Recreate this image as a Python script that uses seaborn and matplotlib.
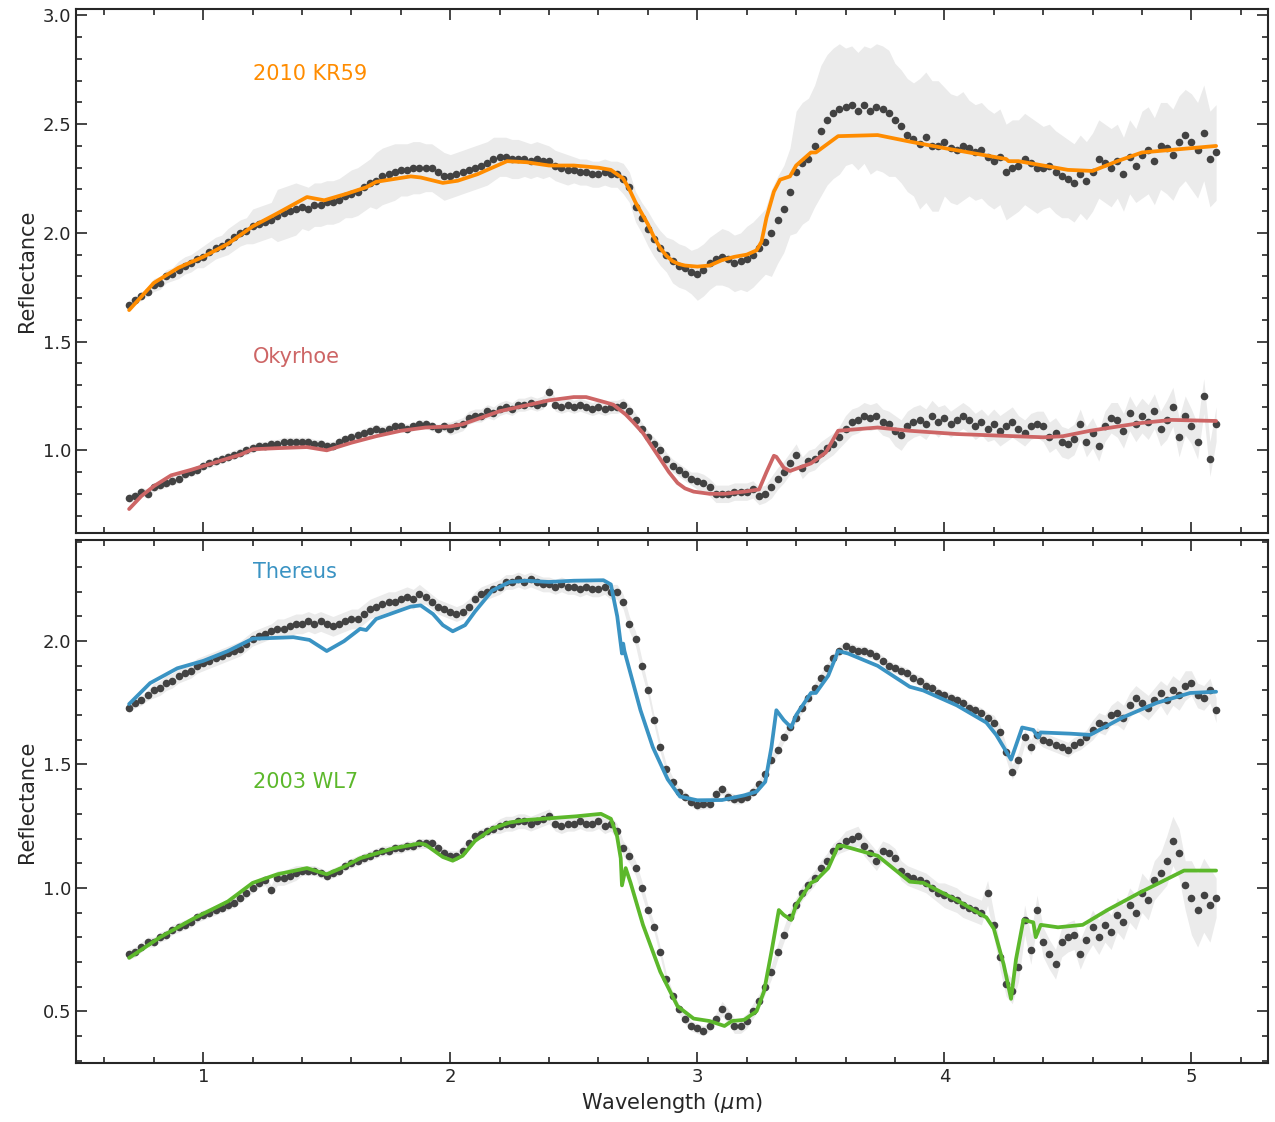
import numpy as np
import matplotlib
matplotlib.use("Agg")
import matplotlib.pyplot as plt
import seaborn as sns
from matplotlib.ticker import MultipleLocator

# wavelength grid of the measured spectra (micron)
wl = np.round(np.arange(0.70, 5.1001, 0.025), 3)

# measured reflectance, one value per grid point
kr59 = [1.67, 1.69, 1.71, 1.73, 1.76, 1.77, 1.80, 1.81, 1.83, 1.85, 1.86, 1.88,
        1.89, 1.91, 1.93, 1.94, 1.96, 1.98, 2.00, 2.01, 2.03, 2.04, 2.05, 2.06,
        2.08, 2.09, 2.10, 2.11, 2.12, 2.11, 2.13, 2.13, 2.14, 2.14, 2.15, 2.17,
        2.18, 2.19, 2.21, 2.23, 2.24, 2.26, 2.27, 2.28, 2.29, 2.29, 2.30, 2.30,
        2.30, 2.30, 2.28, 2.26, 2.26, 2.27, 2.28, 2.29, 2.30, 2.31, 2.32, 2.34,
        2.35, 2.35, 2.34, 2.34, 2.34, 2.33, 2.34, 2.33, 2.33, 2.31, 2.30, 2.29,
        2.29, 2.28, 2.28, 2.27, 2.27, 2.28, 2.27, 2.27, 2.25, 2.21, 2.12, 2.07,
        2.02, 1.97, 1.93, 1.90, 1.87, 1.85, 1.84, 1.82, 1.81, 1.83, 1.86, 1.88,
        1.89, 1.88, 1.86, 1.87, 1.88, 1.90, 1.93, 1.96, 2.00, 2.06, 2.11, 2.19,
        2.28, 2.32, 2.34, 2.40, 2.47, 2.52, 2.55, 2.57, 2.58, 2.59, 2.56, 2.59,
        2.56, 2.58, 2.57, 2.55, 2.52, 2.49, 2.45, 2.43, 2.41, 2.44, 2.40, 2.40,
        2.42, 2.39, 2.38, 2.40, 2.39, 2.37, 2.38, 2.35, 2.33, 2.35, 2.28, 2.30,
        2.31, 2.34, 2.32, 2.30, 2.30, 2.31, 2.28, 2.26, 2.25, 2.23, 2.27, 2.24,
        2.28, 2.34, 2.32, 2.30, 2.33, 2.27, 2.35, 2.31, 2.36, 2.38, 2.33, 2.40,
        2.39, 2.36, 2.42, 2.45, 2.42, 2.38, 2.46, 2.34, 2.37]

okyrhoe = [0.78, 0.79, 0.81, 0.80, 0.83, 0.84, 0.85, 0.86, 0.87, 0.89, 0.90, 0.91,
           0.93, 0.94, 0.95, 0.96, 0.97, 0.98, 0.99, 1.00, 1.01, 1.02, 1.02, 1.03,
           1.03, 1.04, 1.04, 1.04, 1.04, 1.04, 1.03, 1.03, 1.02, 1.02, 1.04, 1.05,
           1.06, 1.07, 1.08, 1.09, 1.10, 1.09, 1.10, 1.11, 1.11, 1.10, 1.11, 1.12,
           1.12, 1.11, 1.10, 1.11, 1.10, 1.11, 1.12, 1.15, 1.16, 1.16, 1.18, 1.17,
           1.19, 1.20, 1.19, 1.21, 1.21, 1.22, 1.21, 1.22, 1.27, 1.21, 1.20, 1.21,
           1.20, 1.21, 1.20, 1.19, 1.20, 1.19, 1.20, 1.20, 1.21, 1.18, 1.14, 1.10,
           1.06, 1.03, 1.00, 0.96, 0.93, 0.91, 0.89, 0.87, 0.86, 0.85, 0.83, 0.80,
           0.80, 0.80, 0.81, 0.81, 0.81, 0.82, 0.79, 0.80, 0.83, 0.87, 0.90, 0.94,
           0.98, 0.92, 0.95, 0.96, 0.99, 1.01, 1.03, 1.06, 1.10, 1.13, 1.14, 1.16,
           1.15, 1.16, 1.13, 1.12, 1.09, 1.07, 1.11, 1.13, 1.14, 1.12, 1.16, 1.13,
           1.15, 1.12, 1.14, 1.16, 1.14, 1.11, 1.13, 1.10, 1.12, 1.09, 1.11, 1.13,
           1.10, 1.08, 1.11, 1.12, 1.11, 1.06, 1.08, 1.04, 1.03, 1.05, 1.12, 1.04,
           1.08, 1.02, 1.11, 1.15, 1.14, 1.09, 1.17, 1.12, 1.16, 1.13, 1.18, 1.10,
           1.14, 1.20, 1.06, 1.16, 1.11, 1.04, 1.25, 0.96, 1.12]

thereus = [1.73, 1.75, 1.76, 1.78, 1.80, 1.81, 1.83, 1.84, 1.86, 1.87, 1.88, 1.90,
           1.91, 1.92, 1.93, 1.94, 1.95, 1.96, 1.97, 1.99, 2.01, 2.02, 2.03, 2.04,
           2.05, 2.05, 2.06, 2.07, 2.07, 2.08, 2.07, 2.08, 2.07, 2.06, 2.07, 2.08,
           2.09, 2.09, 2.11, 2.13, 2.14, 2.15, 2.16, 2.16, 2.17, 2.18, 2.17, 2.19,
           2.18, 2.16, 2.14, 2.13, 2.12, 2.11, 2.12, 2.14, 2.17, 2.19, 2.20, 2.21,
           2.22, 2.24, 2.24, 2.25, 2.24, 2.25, 2.24, 2.23, 2.23, 2.22, 2.23, 2.22,
           2.22, 2.21, 2.22, 2.21, 2.21, 2.22, 2.20, 2.20, 2.16, 2.07, 2.01, 1.90,
           1.80, 1.68, 1.57, 1.48, 1.43, 1.39, 1.37, 1.35, 1.335, 1.34, 1.34, 1.38,
           1.40, 1.37, 1.36, 1.36, 1.37, 1.39, 1.42, 1.46, 1.52, 1.56, 1.61, 1.65,
           1.69, 1.73, 1.77, 1.81, 1.85, 1.89, 1.93, 1.96, 1.98, 1.97, 1.96, 1.96,
           1.95, 1.94, 1.92, 1.90, 1.89, 1.88, 1.87, 1.85, 1.84, 1.82, 1.81, 1.79,
           1.78, 1.77, 1.76, 1.75, 1.73, 1.72, 1.71, 1.69, 1.67, 1.63, 1.55, 1.47,
           1.52, 1.61, 1.57, 1.62, 1.60, 1.59, 1.58, 1.57, 1.56, 1.58, 1.59, 1.61,
           1.64, 1.67, 1.66, 1.70, 1.71, 1.69, 1.74, 1.77, 1.75, 1.73, 1.76, 1.79,
           1.76, 1.80, 1.78, 1.82, 1.83, 1.78, 1.77, 1.80, 1.72]

wl7 = [0.73, 0.74, 0.76, 0.78, 0.78, 0.80, 0.81, 0.83, 0.84, 0.85, 0.86, 0.88,
       0.89, 0.90, 0.91, 0.92, 0.93, 0.94, 0.96, 0.98, 1.00, 1.02, 1.03, 0.99,
       1.04, 1.04, 1.05, 1.06, 1.07, 1.07, 1.07, 1.06, 1.05, 1.06, 1.07, 1.09,
       1.10, 1.11, 1.12, 1.13, 1.14, 1.15, 1.15, 1.16, 1.16, 1.17, 1.17, 1.18,
       1.18, 1.18, 1.16, 1.14, 1.13, 1.13, 1.15, 1.18, 1.21, 1.22, 1.23, 1.24,
       1.25, 1.26, 1.26, 1.27, 1.27, 1.26, 1.27, 1.28, 1.29, 1.26, 1.25, 1.26,
       1.26, 1.27, 1.26, 1.26, 1.27, 1.25, 1.26, 1.23, 1.16, 1.13, 1.08, 1.00,
       0.91, 0.84, 0.74, 0.63, 0.56, 0.51, 0.47, 0.44, 0.43, 0.42, 0.44, 0.47,
       0.51, 0.48, 0.44, 0.44, 0.46, 0.50, 0.54, 0.60, 0.66, 0.74, 0.81, 0.88,
       0.93, 0.98, 1.01, 1.04, 1.08, 1.11, 1.15, 1.17, 1.19, 1.20, 1.21, 1.17,
       1.14, 1.11, 1.15, 1.14, 1.12, 1.07, 1.05, 1.04, 1.03, 1.02, 1.00, 0.98,
       0.97, 0.96, 0.95, 0.93, 0.92, 0.91, 0.90, 0.98, 0.85, 0.72, 0.61, 0.58,
       0.68, 0.87, 0.75, 0.91, 0.78, 0.73, 0.69, 0.78, 0.80, 0.81, 0.73, 0.79,
       0.84, 0.80, 0.85, 0.82, 0.89, 0.86, 0.93, 0.90, 0.98, 0.95, 1.03, 1.06,
       1.11, 1.19, 1.14, 1.01, 0.96, 0.91, 0.97, 0.93, 0.96]

# 1-sigma uncertainties, one value per 0.1 micron (0.7 ... 5.1)
kr59_err = [0.02, 0.03, 0.04, 0.05, 0.06, 0.08, 0.12, 0.10, 0.10, 0.11,
            0.13, 0.12, 0.11, 0.10, 0.10, 0.09, 0.08, 0.07, 0.06, 0.06,
            0.07, 0.08, 0.10, 0.12, 0.13, 0.15, 0.20, 0.28, 0.30, 0.27,
            0.29, 0.26, 0.30, 0.25, 0.22, 0.22, 0.21, 0.19, 0.18, 0.18,
            0.17, 0.20, 0.21, 0.22, 0.22]
okyrhoe_err = [0.02, 0.02, 0.02, 0.02, 0.02, 0.02, 0.02, 0.02, 0.02, 0.02,
               0.02, 0.02, 0.02, 0.03, 0.03, 0.03, 0.03, 0.03, 0.03, 0.03,
               0.03, 0.03, 0.03, 0.04, 0.04, 0.04, 0.05, 0.05, 0.05, 0.06,
               0.06, 0.07, 0.07, 0.06, 0.06, 0.07, 0.06, 0.07, 0.07, 0.07,
               0.08, 0.08, 0.09, 0.08, 0.08]
thereus_err = [0.02, 0.03, 0.03, 0.03, 0.03, 0.03, 0.04, 0.04, 0.04, 0.04,
               0.04, 0.04, 0.03, 0.03, 0.03, 0.03, 0.03, 0.03, 0.03, 0.03,
               0.03, 0.02, 0.02, 0.02, 0.02, 0.02, 0.02, 0.02, 0.02, 0.02,
               0.02, 0.02, 0.02, 0.02, 0.02, 0.03, 0.03, 0.03, 0.03, 0.04,
               0.05, 0.05, 0.06, 0.05, 0.05]
wl7_err = [0.02, 0.02, 0.02, 0.02, 0.02, 0.02, 0.03, 0.02, 0.02, 0.02,
           0.02, 0.02, 0.02, 0.02, 0.02, 0.03, 0.03, 0.03, 0.03, 0.03,
           0.03, 0.02, 0.02, 0.02, 0.03, 0.03, 0.03, 0.03, 0.03, 0.04,
           0.04, 0.04, 0.04, 0.05, 0.05, 0.05, 0.06, 0.06, 0.06, 0.07,
           0.07, 0.08, 0.10, 0.15, 0.08]

# best-fit models
kr59_mod_wl = [0.70, 0.80, 0.90, 1.00, 1.10, 1.20, 1.30, 1.42, 1.49, 1.58, 1.66, 1.70,
               1.84, 1.88, 1.97, 2.03, 2.11, 2.23, 2.31, 2.40, 2.50, 2.60, 2.65, 2.70,
               2.725, 2.75, 2.775, 2.80, 2.825, 2.85, 2.875, 2.90, 2.925, 2.95, 3.00,
               3.05, 3.10, 3.15, 3.20, 3.24, 3.26, 3.28, 3.31, 3.335, 3.375, 3.40, 3.46,
               3.48, 3.57, 3.73, 3.86, 4.00, 4.10, 4.20, 4.25, 4.26, 4.30, 4.40, 4.50,
               4.60, 4.70, 4.80, 4.90, 5.00, 5.10]
kr59_mod = [1.645, 1.77, 1.84, 1.89, 1.95, 2.03, 2.09, 2.165, 2.15, 2.18, 2.21, 2.235,
            2.26, 2.255, 2.23, 2.24, 2.27, 2.33, 2.325, 2.31, 2.31, 2.30, 2.29, 2.25,
            2.20, 2.14, 2.09, 2.04, 1.98, 1.93, 1.895, 1.87, 1.857, 1.85, 1.845,
            1.85, 1.875, 1.89, 1.90, 1.92, 1.96, 2.07, 2.19, 2.245, 2.26, 2.31, 2.37,
            2.37, 2.445, 2.45, 2.42, 2.39, 2.37, 2.35, 2.34, 2.33, 2.33, 2.31, 2.29,
            2.285, 2.33, 2.37, 2.38, 2.39, 2.40]

okyrhoe_mod_wl = [0.70, 0.75, 0.80, 0.87, 0.95, 1.05, 1.15, 1.20, 1.30, 1.42, 1.50, 1.60,
                  1.70, 1.80, 1.90, 2.00, 2.05, 2.10, 2.20, 2.30, 2.40, 2.50, 2.55, 2.63,
                  2.66, 2.71, 2.74, 2.78, 2.815, 2.85, 2.885, 2.92, 2.95, 2.985, 3.05,
                  3.11, 3.19, 3.25, 3.28, 3.31, 3.32, 3.35, 3.375, 3.46, 3.52, 3.54, 3.57,
                  3.73, 3.86, 4.05, 4.40, 4.48, 4.59, 4.79, 4.92, 5.10]
okyrhoe_mod = [0.73, 0.79, 0.835, 0.885, 0.91, 0.945, 0.98, 1.005, 1.01, 1.015, 1.00, 1.035,
               1.065, 1.09, 1.105, 1.11, 1.12, 1.14, 1.18, 1.205, 1.23, 1.245, 1.245, 1.22,
               1.21, 1.165, 1.13, 1.08, 1.02, 0.96, 0.90, 0.85, 0.825, 0.81, 0.80,
               0.80, 0.81, 0.82, 0.90, 0.975, 0.97, 0.92, 0.905, 0.94, 0.99, 1.03, 1.09,
               1.105, 1.09, 1.075, 1.06, 1.065, 1.09, 1.125, 1.14, 1.135]

thereus_mod_wl = [0.70, 0.785, 0.895, 1.00, 1.10, 1.20, 1.365, 1.43, 1.50, 1.57, 1.635, 1.66,
                  1.70, 1.84, 1.88, 1.93, 1.97, 2.01, 2.06, 2.10, 2.17, 2.24, 2.31, 2.40,
                  2.50, 2.62, 2.65, 2.676, 2.695, 2.70, 2.705, 2.77, 2.82, 2.88, 2.93, 3.00,
                  3.10, 3.19, 3.24, 3.275, 3.30, 3.32, 3.35, 3.38, 3.40, 3.46, 3.48, 3.53,
                  3.57, 3.61, 3.73, 3.86, 3.915, 4.05, 4.17, 4.21, 4.27, 4.315, 4.36, 4.38,
                  4.39, 4.51, 4.59, 4.72, 4.86, 4.995, 5.10]
thereus_mod = [1.745, 1.83, 1.89, 1.92, 1.96, 2.01, 2.016, 2.005, 1.96, 2.00, 2.05, 2.045,
               2.09, 2.14, 2.145, 2.11, 2.065, 2.04, 2.065, 2.12, 2.205, 2.24, 2.245, 2.24,
               2.245, 2.247, 2.23, 2.10, 1.95, 1.99, 1.96, 1.72, 1.57, 1.44, 1.37, 1.355,
               1.356, 1.375, 1.39, 1.43, 1.57, 1.72, 1.68, 1.65, 1.70, 1.79, 1.79, 1.86,
               1.96, 1.95, 1.90, 1.815, 1.80, 1.74, 1.67, 1.62, 1.52, 1.65, 1.64, 1.61,
               1.63, 1.625, 1.62, 1.69, 1.75, 1.79, 1.795]

wl7_mod_wl = [0.70, 0.826, 0.96, 1.10, 1.20, 1.30, 1.42, 1.50, 1.57, 1.635, 1.77, 1.875,
              1.90, 1.97, 2.01, 2.05, 2.10, 2.17, 2.24, 2.31, 2.51, 2.61, 2.65, 2.675,
              2.69, 2.695, 2.71, 2.73, 2.78, 2.85, 2.92, 2.985, 3.05, 3.11, 3.14, 3.19,
              3.24, 3.27, 3.30, 3.33, 3.35, 3.38, 3.40, 3.46, 3.48, 3.53, 3.57, 3.59,
              3.73, 3.86, 3.915, 4.05, 4.17, 4.20, 4.24, 4.27, 4.29, 4.32, 4.36, 4.37,
              4.39, 4.46, 4.56, 4.66, 4.79, 4.97, 5.10]
wl7_mod = [0.716, 0.80, 0.875, 0.945, 1.02, 1.055, 1.08, 1.055, 1.085, 1.12, 1.16, 1.18,
           1.175, 1.125, 1.11, 1.13, 1.19, 1.24, 1.265, 1.275, 1.29, 1.30, 1.28, 1.21,
           1.12, 1.01, 1.08, 1.02, 0.85, 0.66, 0.52, 0.47, 0.46, 0.44, 0.46, 0.465,
           0.50, 0.58, 0.74, 0.91, 0.89, 0.87, 0.93, 1.02, 1.03, 1.08, 1.17, 1.17,
           1.13, 1.025, 1.02, 0.95, 0.88, 0.835, 0.69, 0.55, 0.71, 0.87, 0.86, 0.80,
           0.85, 0.84, 0.85, 0.91, 0.98, 1.07, 1.07]

names = ["2010 KR59", "Okyrhoe", "Thereus", "2003 WL7"]
colors = ["#ff8c00", "#cd6565", "#3a93c3", "#5cb82b"]
label_y = [2.73, 1.43, 2.28, 1.43]

sns.set_style("ticks")
plt.rcParams["font.family"] = ["DejaVu Sans"]

fig = plt.figure(figsize=(12.75, 11.22), dpi=100)
ax_top = fig.add_axes([0.0596, 0.525, 0.9349, 0.467])
ax_bot = fig.add_axes([0.0596, 0.0526, 0.9349, 0.4661], sharex=ax_top)

spectra = [
    (ax_top, kr59, kr59_err, kr59_mod_wl, kr59_mod),
    (ax_top, okyrhoe, okyrhoe_err, okyrhoe_mod_wl, okyrhoe_mod),
    (ax_bot, thereus, thereus_err, thereus_mod_wl, thereus_mod),
    (ax_bot, wl7, wl7_err, wl7_mod_wl, wl7_mod),
]

for i, (ax, refl, err, mwl, mod) in enumerate(spectra):
    refl = np.array(refl)
    e = np.repeat(err, 4)[:len(wl)]
    ax.fill_between(wl, refl - e, refl + e, color="#ebebeb", lw=0, zorder=1)
    sns.scatterplot(x=wl, y=refl, ax=ax, color="#424242", s=30, linewidth=0, zorder=2)
    sns.lineplot(x=mwl, y=mod, ax=ax, color=colors[i], lw=2.7, sort=False,
                 estimator=None, zorder=3)
    ax.text(1.2, label_y[i], names[i], color=colors[i], fontsize=15, va="center")

ax_top.set_xlim(0.485, 5.31)
ax_top.set_ylim(0.62, 3.03)
ax_bot.set_ylim(0.29, 2.41)

for ax in (ax_top, ax_bot):
    ax.xaxis.set_major_locator(MultipleLocator(1))
    ax.xaxis.set_minor_locator(MultipleLocator(0.2))
    ax.yaxis.set_major_locator(MultipleLocator(0.5))
    ax.yaxis.set_minor_locator(MultipleLocator(0.1))
    ax.tick_params(which="both", direction="in", top=True, right=True, width=1.2,
                   labelsize=13)
    ax.tick_params(which="major", length=8)
    ax.tick_params(which="minor", length=4)
    for sp in ax.spines.values():
        sp.set_linewidth(1.5)
    ax.set_ylabel("Reflectance", fontsize=15)

ax_top.tick_params(labelbottom=False)
ax_bot.set_xlabel(r"Wavelength ($\mu$m)", fontsize=15)

fig.savefig("out.png", dpi=100)
